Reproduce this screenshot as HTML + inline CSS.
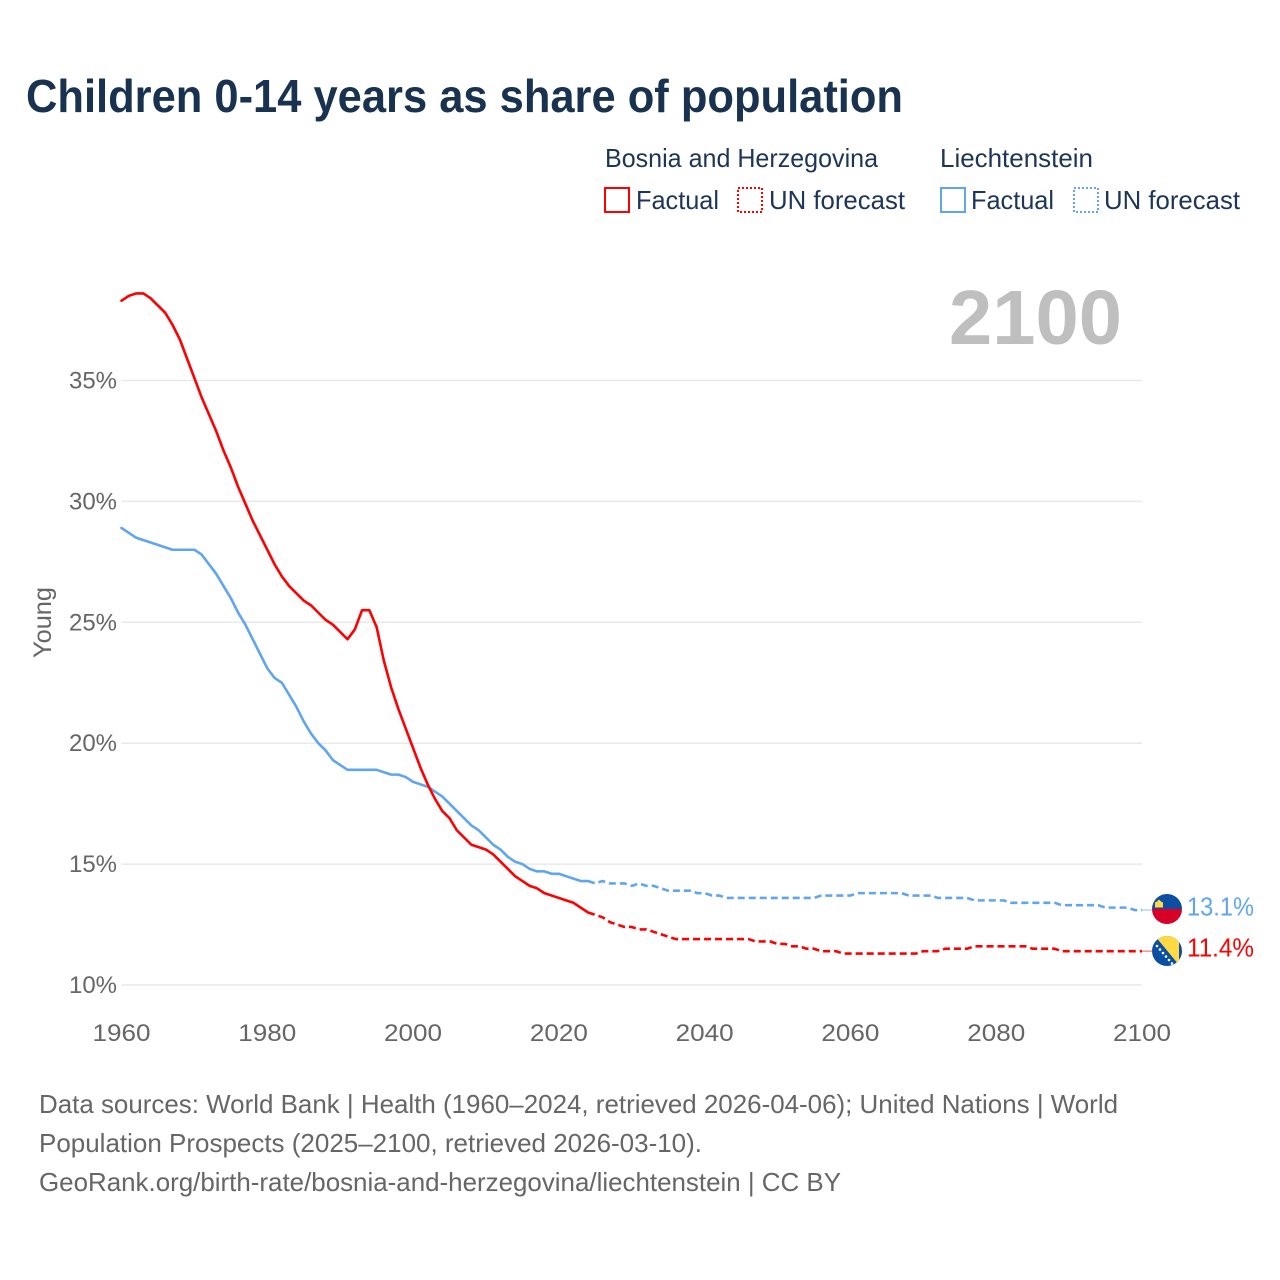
<!DOCTYPE html>
<html lang="en">
<head>
<meta charset="utf-8">
<title>Children 0-14 years as share of population</title>
<style>
html,body{margin:0;padding:0;background:#fff;width:1280px;height:1280px;overflow:hidden}
svg{display:block;font-family:"Liberation Sans",sans-serif}
</style>
</head>
<body>
<svg id="chart" xmlns="http://www.w3.org/2000/svg" width="1280" height="1280" viewBox="0 0 1280 1280">
  <rect x="0" y="0" width="1280" height="1280" fill="#fff"/>
  <text x="26" y="112" font-size="46" font-weight="700" fill="#18324f" textLength="877" lengthAdjust="spacingAndGlyphs">Children 0-14 years as share of population</text>

  <g font-size="26" fill="#1d3557">
    <text x="605" y="167" textLength="273" lengthAdjust="spacingAndGlyphs">Bosnia and Herzegovina</text>
    <text x="940" y="167" textLength="153" lengthAdjust="spacingAndGlyphs">Liechtenstein</text>
    <rect x="605" y="188" width="24" height="24" fill="none" stroke="#ff0000" stroke-width="2"/>
    <text x="636" y="209" textLength="83" lengthAdjust="spacingAndGlyphs">Factual</text>
    <rect x="738" y="188" width="24" height="24" fill="none" stroke="#ff0000" stroke-width="2" stroke-dasharray="2 2"/>
    <text x="769" y="209" textLength="136" lengthAdjust="spacingAndGlyphs">UN forecast</text>
    <rect x="941" y="188" width="24" height="24" fill="none" stroke="#60a5f0" stroke-width="2"/>
    <text x="971" y="209" textLength="83" lengthAdjust="spacingAndGlyphs">Factual</text>
    <rect x="1074" y="188" width="24" height="24" fill="none" stroke="#60a5f0" stroke-width="2" stroke-dasharray="2 2"/>
    <text x="1104" y="209" textLength="136" lengthAdjust="spacingAndGlyphs">UN forecast</text>
  </g>

  <text x="949" y="344" font-size="77" font-weight="700" fill="#bfbfbf" textLength="173" lengthAdjust="spacingAndGlyphs">2100</text>
  <text transform="translate(51,658) rotate(-90)" font-size="25" fill="#666" textLength="71" lengthAdjust="spacingAndGlyphs">Young</text>

  <g id="grid"></g>
  <g id="yticks"></g>
  <g id="xticks"></g>
  <g id="series"></g>

  <g transform="translate(1167,909)">
    <clipPath id="clip-li"><circle cx="0" cy="0" r="15"/></clipPath>
    <g clip-path="url(#clip-li)">
      <rect x="-15" y="-15" width="30" height="15" fill="#0b4ea2"/>
      <rect x="-15" y="0" width="30" height="15" fill="#d80027"/>
      <path d="M-4-1.500H4V-6.500L2-7.500 0-9.500-2-7.500-4-6.500z" transform="translate(-8,0)" fill="#ffda44"/>
    </g>
  </g>
  <g transform="translate(1167,951)">
    <clipPath id="clip-ba"><circle cx="0" cy="0" r="15"/></clipPath>
    <g clip-path="url(#clip-ba)">
      <rect x="-15" y="-15" width="30" height="30" fill="#0b4ea2"/>
      <path d="M-12-15H12V14z" fill="#ffda44"/>
      <g fill="#fff">
        <circle cx="-10" cy="-5" r="1.300"/>
        <circle cx="-7" cy="-1.500" r="1.300"/>
        <circle cx="-4" cy="2" r="1.300"/>
        <circle cx="-1" cy="5.500" r="1.300"/>
        <circle cx="2" cy="9" r="1.300"/>
        <circle cx="5" cy="12.500" r="1.300"/>
      </g>
    </g>
  </g>
  <text x="1187" y="915.500" font-size="26" fill="#60a5f0" textLength="67" lengthAdjust="spacingAndGlyphs">13.1%</text>
  <text x="1187" y="956.500" font-size="26" fill="#ff0000" textLength="67" lengthAdjust="spacingAndGlyphs">11.4%</text>

  <g font-size="26" fill="#666">
    <text x="39" y="1113" textLength="1079" lengthAdjust="spacingAndGlyphs">Data sources: World Bank | Health (1960–2024, retrieved 2026-04-06); United Nations | World</text>
    <text x="39" y="1152" textLength="663" lengthAdjust="spacingAndGlyphs">Population Prospects (2025–2100, retrieved 2026-03-10).</text>
    <text x="39" y="1191" textLength="802" lengthAdjust="spacingAndGlyphs">GeoRank.org/birth-rate/bosnia-and-herzegovina/liechtenstein | CC BY</text>
  </g>
</svg>
<script>
const yTickValues = [10, 15, 20, 25, 30, 35];
const xTickYears = [1960, 1980, 2000, 2020, 2040, 2060, 2080, 2100];
const factualStartYear = 1960;
const forecastStartYear = 2025;
const bosniaFactual = [
  38.3,38.5,38.6,38.6,38.4,38.1,37.8,37.3,36.7,35.9,
  35.1,34.3,33.6,32.9,32.1,31.4,30.6,29.9,29.2,28.6,
  28.0,27.4,26.9,26.5,26.2,25.9,25.7,25.4,25.1,24.9,
  24.6,24.3,24.7,25.5,25.5,24.8,23.4,22.3,21.4,20.6,
  19.8,19.0,18.3,17.7,17.2,16.9,16.4,16.1,15.8,15.7,
  15.6,15.4,15.1,14.8,14.5,14.3,14.1,14.0,13.8,13.7,
  13.6,13.5,13.4,13.2,13.0
];
const bosniaForecast = [
  12.9,12.8,12.6,12.5,12.4,12.4,12.3,12.3,12.2,12.1,
  12.0,11.9,11.9,11.9,11.9,11.9,11.9,11.9,11.9,11.9,11.9,11.9,
  11.8,11.8,11.8,11.7,11.7,11.6,11.6,11.5,11.5,
  11.4,11.4,11.4,
  11.3,11.3,11.3,11.3,11.3,11.3,11.3,11.3,11.3,11.3,11.3,
  11.4,11.4,11.4,
  11.5,11.5,11.5,11.5,
  11.6,11.6,11.6,11.6,11.6,11.6,11.6,11.6,
  11.5,11.5,11.5,11.5,
  11.4,11.4,11.4,11.4,11.4,11.4,11.4,11.4,11.4,11.4,11.4,11.4
];
const liechtensteinFactual = [
  28.9,28.7,28.5,28.4,28.3,28.2,28.1,28.0,28.0,28.0,
  28.0,27.8,27.4,27.0,26.5,26.0,25.4,24.9,24.3,23.7,
  23.1,22.7,22.5,22.0,21.5,20.9,20.4,20.0,19.7,19.3,
  19.1,18.9,18.9,18.9,18.9,18.9,18.8,18.7,18.7,18.6,
  18.4,18.3,18.2,18.0,17.8,17.5,17.2,16.9,16.6,16.4,
  16.1,15.8,15.6,15.3,15.1,15.0,14.8,14.7,14.7,14.6,
  14.6,14.5,14.4,14.3,14.3
];
const liechtensteinForecast = [
  14.2,14.3,14.2,14.2,14.2,14.1,14.2,14.1,14.1,14.0,
  13.9,13.9,13.9,13.9,13.8,13.8,13.7,13.7,
  13.6,13.6,13.6,13.6,13.6,13.6,13.6,13.6,13.6,13.6,13.6,13.6,13.6,
  13.7,13.7,13.7,13.7,13.7,
  13.8,13.8,13.8,13.8,13.8,13.8,13.8,
  13.7,13.7,13.7,13.7,
  13.6,13.6,13.6,13.6,13.6,
  13.5,13.5,13.5,13.5,13.5,
  13.4,13.4,13.4,13.4,13.4,13.4,13.4,
  13.3,13.3,13.3,13.3,13.3,13.3,
  13.2,13.2,13.2,13.2,
  13.1,13.1
];

const SVG_NS = 'http://www.w3.org/2000/svg';
const xScale = year => 121.5 + (year - 1960) * (1142 - 121.5) / 140;
const yScale = pct => 985 - (pct - 10) * (985 - 380.5) / 25;

function make(tag, attrs, parent, text) {
  const el = document.createElementNS(SVG_NS, tag);
  for (const k in attrs) el.setAttribute(k, attrs[k]);
  if (text !== undefined) el.textContent = text;
  parent.appendChild(el);
  return el;
}

const gridG = document.getElementById('grid');
const yG = document.getElementById('yticks');
yTickValues.forEach(v => {
  const line = make('line', {x1: 121.5, x2: 1142, y1: yScale(v), y2: yScale(v), stroke: '#e9e9e9', 'stroke-width': 1.5}, gridG);
  
  
  const label = make('text', {x: 69, y: yScale(v) + 8, 'font-size': 24, fill: '#666', textLength: 48, lengthAdjust: 'spacingAndGlyphs'}, yG, v + '%');
  
  
});

const xG = document.getElementById('xticks');
xTickYears.forEach(y => {
  const label = make('text', {x: xScale(y) - 29, y: 1041, 'font-size': 24, fill: '#666', textLength: 58, lengthAdjust: 'spacingAndGlyphs'}, xG, String(y));
  
  
});

function pathFrom(values, startYear) {
  return values.map((v, i) => (i ? 'L' : 'M') + xScale(startYear + i).toFixed(2) + ' ' + yScale(v).toFixed(2)).join('');
}

const seriesG = document.getElementById('series');
function drawSeries(factual, forecast, color) {
  const last = factual[factual.length - 1];
  const lastYear = factualStartYear + factual.length - 1;
  const connectorY = forecast[forecast.length - 1];
  const connector = make('line', {x1: 1142, x2: 1152, y1: yScale(connectorY), y2: yScale(connectorY), stroke: color, 'stroke-width': 1.5, opacity: 0.45}, seriesG);
  
  
  const fc = make('path', {d: pathFrom([last].concat(forecast), lastYear), fill: 'none', stroke: color, 'stroke-width': 2.6, 'stroke-dasharray': '7 4', 'stroke-linejoin': 'round'}, seriesG);
  
  
  const fa = make('path', {d: pathFrom(factual, factualStartYear), fill: 'none', stroke: color, 'stroke-width': 2.6, 'stroke-linejoin': 'round', 'stroke-linecap': 'round'}, seriesG);
  
  
}
drawSeries(liechtensteinFactual, liechtensteinForecast, '#60a5f0');
drawSeries(bosniaFactual, bosniaForecast, '#ff0000');
</script>
</body>
</html>
